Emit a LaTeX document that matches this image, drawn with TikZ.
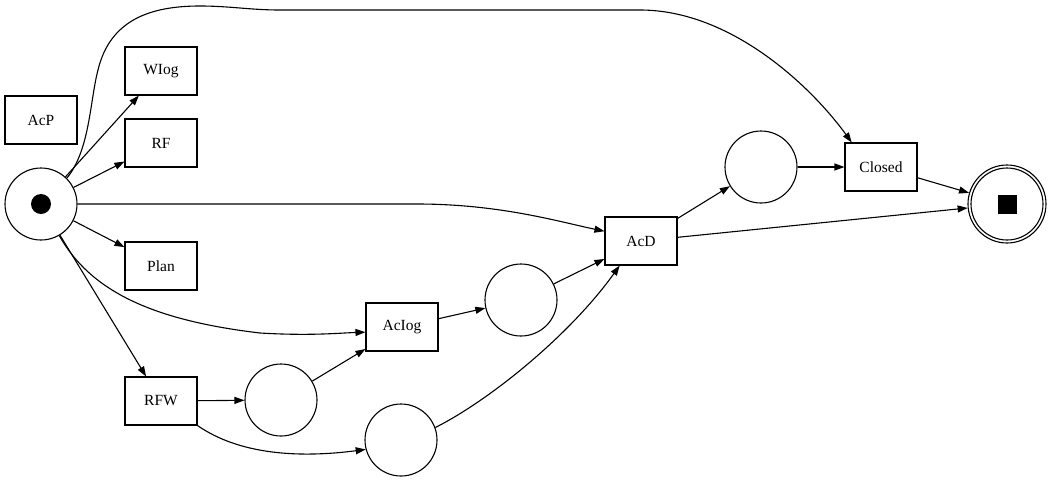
\documentclass[tikz,border=0pt]{standalone}
\usepackage{fontspec}
\setmainfont{Liberation Serif}
\usetikzlibrary{arrows.meta,shapes,positioning,calc}

\begin{document}
\begin{tikzpicture}[
    x=1pt, y=-1pt,
    line width=1.1pt,
    every node/.style={font=\fontsize{15.5}{18}\selectfont},
    trans/.style={rectangle, draw, minimum width=72pt, minimum height=48pt, inner sep=0pt},
    place/.style={circle, draw, minimum size=72pt, inner sep=0pt},
    arc/.style={-{Triangle[length=10pt,width=7pt]}}
]
    \useasboundingbox (0,0) rectangle (1053,483);

    \node[place] (src) at (41,204) {};
    \node[circle, fill, minimum size=20pt, inner sep=0pt] (srctok) at (src) {};
    \node[trans] (acp) at (41,120) {AcP};
    \node[trans] (wlog) at (161,71) {WIog};
    \node[trans] (rf) at (161,143) {RF};
    \node[trans] (plan) at (161,266) {Plan};
    \node[trans] (rfw) at (161,401) {RFW};
    \node[place] (p1) at (281,400) {};
    \node[place] (p2) at (401,440) {};
    \node[trans] (aclog) at (402,327) {AcIog};
    \node[place] (p3) at (521,300) {};
    \node[trans] (acd) at (641,241) {AcD};
    \node[place] (p4) at (761,167) {};
    \node[trans] (closed) at (881,167) {Closed};
    \node[place, minimum size=78pt] (sink) at (1007,204) {};
    \node[place] (sinkin) at (sink) {};
    \node[rectangle, fill, minimum size=19pt, inner sep=0pt] (sinktok) at (sink) {};

    \draw[arc] (src) -- (wlog);
    \draw[arc] (src) -- (rf);
    \draw[arc] (src) -- (plan);
    \draw[arc] (src) -- (rfw);
    \draw[arc] (rfw) -- (p1);
    \draw[arc] (p1) -- (aclog);
    \draw[arc] (aclog) -- (p3);
    \draw[arc] (p3) -- (acd);
    \draw[arc] (acd) -- (p4);
    \draw[arc] (p4) -- (closed);
    \draw[arc] (closed) -- (sink);
    \draw[arc] (acd) -- (sink);

    \draw[arc] (src.45) .. controls (90,150) and (90,100) .. (98,70)
        .. controls (110,20) and (150,6) .. (200,6)
        .. controls (230,6) and (250,10) .. (280,10) -- (640,10)
        .. controls (730,10) and (810,85) .. (closed.140);
    \draw[arc] (src.east) -- (417,204) .. controls (500,204) and (560,222) .. (acd.165);
    \draw[arc] (src.-60) .. controls (90,290) and (150,320) .. (260,333)
        .. controls (310,336) and (340,333) .. (aclog.188);
    \draw[arc] (rfw.south east) .. controls (240,455) and (300,458) .. (p2.195);
    \draw[arc] (p2.20) .. controls (490,400) and (570,335) .. (acd.-131);
\end{tikzpicture}
\end{document}
